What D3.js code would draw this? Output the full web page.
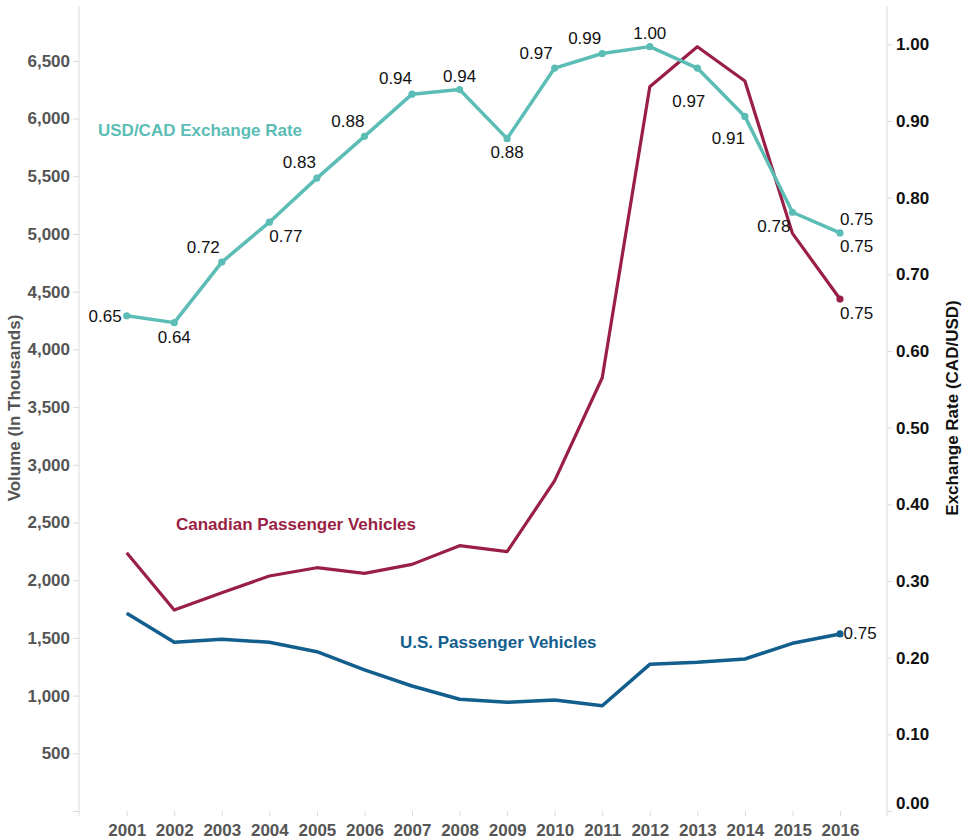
<!DOCTYPE html>
<html>
<head>
<meta charset="utf-8">
<script src="https://cdn.jsdelivr.net/npm/d3@7"></script>
<style>
  body { margin: 0; background: #fff; }
  svg { display: block; font-family: Arial, "Liberation Sans", sans-serif; }
</style>
</head>
<body>
<script>
var years = [2001, 2002, 2003, 2004, 2005, 2006, 2007, 2008, 2009, 2010, 2011, 2012, 2013, 2014, 2015, 2016];

// volumes in thousands (left axis)
var canadianVehicles = [2238, 1741, 1891, 2036, 2108, 2059, 2137, 2299, 2247, 2862, 3754, 6275, 6622, 6325, 5005, 4436];
var usVehicles = [1713, 1462, 1488, 1462, 1380, 1222, 1083, 968, 942, 962, 912, 1271, 1288, 1317, 1453, 1534];

// CAD/USD (right axis)
var exchangeRate = [0.646, 0.637, 0.716, 0.768, 0.8255, 0.880, 0.935, 0.941, 0.877, 0.969, 0.988, 0.997, 0.969, 0.906, 0.781, 0.754];

var leftTicks = [0, 500, 1000, 1500, 2000, 2500, 3000, 3500, 4000, 4500, 5000, 5500, 6000, 6500];
var rightTicks = [0, 0.1, 0.2, 0.3, 0.4, 0.5, 0.6, 0.7, 0.8, 0.9, 1.0];

// where each exchange rate label sits relative to its point: [anchor, dx, dy]
var labelPlacement = [
  ['end', -5, 0], ['middle', 0, 14], ['end', -2, -15], ['start', 0, 14],
  ['end', -1, -16], ['end', 0, -15], ['end', 0, -16], ['middle', 0, -14],
  ['middle', 0, 13], ['end', -2, -15], ['end', -1, -15], ['middle', 0, -14],
  ['end', 8, 33], ['end', 0, 22], ['end', -2, 14], ['start', 0, -14]
];

var width = 967,
  height = 839,
  xLeft = 79,
  xRight = 887,
  yBottom = 811,
  yTop = 6,
  tealColor = '#5bbdb5',
  redColor = '#9a1f45',
  blueColor = '#125e8d',
  gridGray = '#dcdcdc',
  fmtRate = d3.format('.2f');

var svg = d3.select('body').append('svg')
  .attr('width', width)
  .attr('height', height);

var x = d3.scaleLinear().domain([2001, 2016]).range([126.7, 840]),
  yLeft = d3.scaleLinear().domain([0, 6975]).range([yBottom, yTop]),
  yRight = d3.scaleLinear().domain([0, 1.05]).range([yBottom, yTop]);

// axis lines
svg.append('line').attr('x1', xLeft).attr('x2', xLeft).attr('y1', yTop).attr('y2', 816)
  .attr('stroke', gridGray);
svg.append('line').attr('x1', xRight).attr('x2', xRight).attr('y1', yTop).attr('y2', 816)
  .attr('stroke', gridGray);

var leftAxis = svg.append('g')
  .attr('transform', 'translate(' + xLeft + ',0)')
  .call(d3.axisLeft(yLeft).tickValues(leftTicks).tickSize(6).tickPadding(3)
    .tickFormat(function(v) { return v === 0 ? '' : d3.format(',')(v); }));

var rightAxis = svg.append('g')
  .attr('transform', 'translate(' + xRight + ',0)')
  .call(d3.axisRight(yRight).tickValues(rightTicks).tickSize(5).tickPadding(4).tickFormat(fmtRate));

var bottomAxis = svg.append('g')
  .attr('transform', 'translate(0,' + yBottom + ')')
  .call(d3.axisBottom(x).tickValues(years).tickSize(5).tickPadding(8).tickFormat(d3.format('d')));

[leftAxis, rightAxis, bottomAxis].forEach(function(g) {
  g.select('.domain').remove();
  g.selectAll('.tick line').attr('stroke', gridGray);
  g.selectAll('.tick text')
    .attr('font-family', 'Arial, "Liberation Sans", sans-serif')
    .attr('font-size', 17)
    .attr('font-weight', 'bold')
    .attr('fill', '#555');
});
rightAxis.selectAll('.tick text').attr('fill', '#111');
// Tableau keeps the bottom label inside the pane
rightAxis.selectAll('.tick').filter(function(d) { return d === 0; }).select('text').attr('y', -8);

// axis titles
svg.append('text')
  .attr('transform', 'translate(14,408) rotate(-90)')
  .attr('text-anchor', 'middle')
  .attr('dy', '0.35em')
  .attr('font-size', 17)
  .attr('font-weight', 'bold')
  .attr('fill', '#555')
  .text('Volume (In Thousands)');

svg.append('text')
  .attr('transform', 'translate(952,408) rotate(-90)')
  .attr('text-anchor', 'middle')
  .attr('dy', '0.35em')
  .attr('font-size', 17)
  .attr('font-weight', 'bold')
  .attr('fill', '#111')
  .text('Exchange Rate (CAD/USD)');

var lineLeft = d3.line()
  .x(function(d, i) { return x(years[i]); })
  .y(function(d) { return yLeft(d); });
var lineRight = d3.line()
  .x(function(d, i) { return x(years[i]); })
  .y(function(d) { return yRight(d); });

svg.append('path').datum(canadianVehicles)
  .attr('d', lineLeft)
  .attr('fill', 'none')
  .attr('stroke', redColor)
  .attr('stroke-width', 3.2)
  .attr('stroke-linejoin', 'round');

svg.append('path').datum(usVehicles)
  .attr('d', lineLeft)
  .attr('fill', 'none')
  .attr('stroke', blueColor)
  .attr('stroke-width', 3.5)
  .attr('stroke-linejoin', 'round');

svg.append('path').datum(exchangeRate)
  .attr('d', lineRight)
  .attr('fill', 'none')
  .attr('stroke', tealColor)
  .attr('stroke-width', 3.5)
  .attr('stroke-linejoin', 'round');

svg.append('g').selectAll('circle')
  .data(exchangeRate)
  .join('circle')
  .attr('cx', function(d, i) { return x(years[i]); })
  .attr('cy', function(d) { return yRight(d); })
  .attr('r', 3.6)
  .attr('fill', tealColor);

var last = years.length - 1;
svg.append('circle')
  .attr('cx', x(years[last])).attr('cy', yLeft(canadianVehicles[last]))
  .attr('r', 3.6).attr('fill', redColor);
svg.append('circle')
  .attr('cx', x(years[last])).attr('cy', yLeft(usVehicles[last]))
  .attr('r', 3.6).attr('fill', blueColor);

// value labels
var valueLabel = function(px, py, anchor, txt) {
  svg.append('text')
    .attr('x', px)
    .attr('y', py)
    .attr('dy', '0.35em')
    .attr('text-anchor', anchor)
    .attr('font-size', 17)
    .attr('fill', '#111')
    .text(txt);
};

exchangeRate.forEach(function(d, i) {
  var p = labelPlacement[i];
  valueLabel(x(years[i]) + p[1], yRight(d) + p[2], p[0], fmtRate(d));
});

// end labels of every line repeat the last exchange rate
var endRate = fmtRate(exchangeRate[last]);
valueLabel(x(years[last]), yRight(exchangeRate[last]) + 13, 'start', endRate);
valueLabel(x(years[last]), yLeft(canadianVehicles[last]) + 14, 'start', endRate);
valueLabel(x(years[last]) + 3.5, yLeft(usVehicles[last]) - 1, 'start', endRate);

// series names
var seriesLabel = function(px, py, color, txt) {
  svg.append('text')
    .attr('x', px)
    .attr('y', py)
    .attr('dy', '0.35em')
    .attr('font-size', 17)
    .attr('font-weight', 'bold')
    .attr('fill', color)
    .text(txt);
};

seriesLabel(98, 130, tealColor, 'USD/CAD Exchange Rate');
seriesLabel(176, 524, redColor, 'Canadian Passenger Vehicles');
seriesLabel(400, 642, blueColor, 'U.S. Passenger Vehicles');
</script>
</body>
</html>
